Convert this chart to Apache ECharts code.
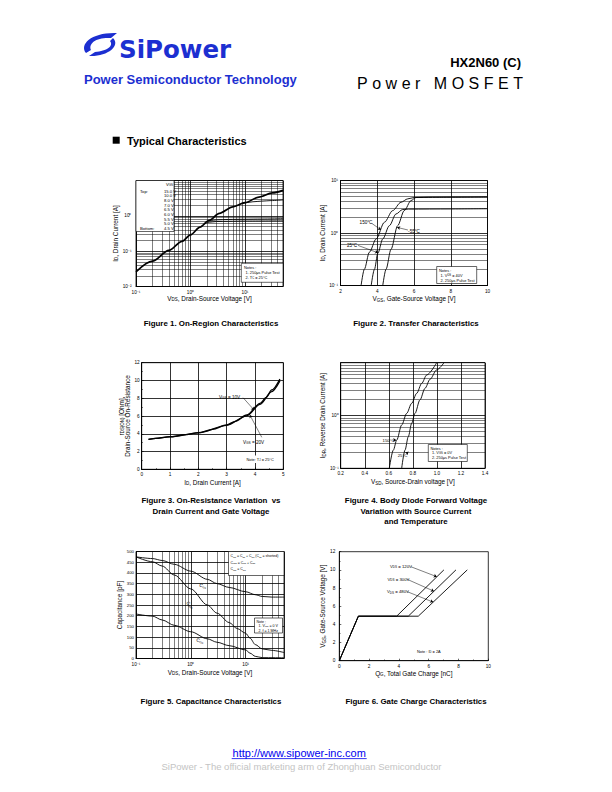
<!DOCTYPE html>
<html><head><meta charset="utf-8">
<script src="https://cdn.jsdelivr.net/npm/echarts@6.0.0/dist/echarts.min.js"></script>
<style>
html,body{margin:0;padding:0;background:#fff;}
#wrap{position:relative;width:612px;height:792px;overflow:hidden;}
#c{position:absolute;left:0;top:0;width:612px;height:792px;}
#hdr{position:absolute;left:0;top:0;pointer-events:none;}
</style>
</head><body>
<div id="wrap">
<div id="c"></div>
<svg id="hdr" width="612" height="792" viewBox="0 0 612 792" xmlns="http://www.w3.org/2000/svg">
  <g fill="#1c2fd1">
    <path d="M86 53 C79 44 92 32 117 33 L111 38 C97 37 88 43 91 50 Z"/>
    <path d="M113 38 C121 46 107 57 89 56 L95 52 C107 51 114 46 110 41 Z"/>
  </g>
  <text x="119" y="58" font-family="DejaVu Sans" font-weight="bold" font-size="24.5" fill="#1c2fd1">SiPower</text>
  <text x="84" y="83.5" font-family="Liberation Sans, Arial" font-weight="bold" font-size="13" fill="#1c2fd1">Power Semiconductor Technology</text>
  <text x="521" y="66.5" text-anchor="end" font-family="Liberation Sans, Arial" font-weight="bold" font-size="13" fill="#000">HX2N60 (C)</text>
  <text x="357" y="89" font-family="Liberation Sans, Arial" font-size="16" letter-spacing="4.5" fill="#000">Power MOSFET</text>
  <rect x="112.7" y="136.7" width="7" height="7" fill="#000"/>
  <text x="127" y="144.7" font-family="Liberation Sans, Arial" font-weight="bold" font-size="11" fill="#000">Typical Characteristics</text>
  <text x="299.2" y="757" text-anchor="middle" font-family="Liberation Sans, Arial" font-size="11" fill="#0000ee">http://www.sipower-inc.com</text>
  <line x1="231.7" y1="758.6" x2="366.7" y2="758.6" stroke="#0000ee" stroke-width="0.8"/>
  <text x="301.5" y="770" text-anchor="middle" font-family="Liberation Sans, Arial" font-size="9.5" fill="#c4c4c4">SiPower - The official marketing arm of Zhonghuan Semiconductor</text>
</svg>
</div>
<script>
// ================= DATA =================
// Figure 1: On-region, [V_DS (V), I_D (A)]
const f1Main = [[0.1,0.026],[0.2,0.052],[0.4,0.105],[0.7,0.19],[1,0.29],[1.5,0.48],[2.2,0.75],[3.4,1.18],[6,1.8],[10,2.35],[18,3.4],[32,4.45],[50,5.25]];
const f1B1 = [[9,2.2],[11,2.38],[14,2.5],[20,2.6],[30,2.7],[50,2.82]];
const f1B2 = [[2.0,0.67],[2.4,0.74],[3,0.77],[5,0.79],[10,0.8],[20,0.81],[50,0.83]];
const f1B3 = [[1.8,0.59],[2.2,0.66],[3,0.69],[5,0.7],[10,0.71],[50,0.72]];
const f1VgsLegend = ['15.0 V','10.0 V','8.0 V','7.0 V','6.5 V','6.0 V','5.5 V','5.0 V','4.5 V'];
const f1XLabels = [0.1, 1, 10];
const f1YLabels = [0.01, 0.1, 1];

// Figure 2: Transfer, [V_GS (V), I_D (A)]
const f2T150 = [[3.12,0.1],[3.3,0.205],[3.57,0.43],[3.94,0.77],[4.39,1.6],[4.84,2.67],[5.29,3.85],[5.66,4.47],[6.02,4.75],[7,4.8],[8,4.82],[10,4.85]];
const f2T25  = [[3.67,0.1],[3.85,0.205],[4.03,0.41],[4.3,0.77],[4.66,1.38],[5.02,2.3],[5.38,2.8],[5.7,2.85],[8,2.87],[10,2.9]];
const f2Tm55 = [[4.3,0.1],[4.48,0.205],[4.75,0.49],[5.11,1.38],[5.47,2.67],[5.84,4.15],[6.11,4.75],[7,4.8],[10,4.85]];
const f2YLabels = [0.1, 1, 10];

// Figure 3: On-resistance, [I_D (A), R (Ohm)]
const f3R10 = [[0.24,3.38],[0.5,3.48],[1,3.67],[1.5,3.88],[2,4.12],[2.5,4.5],[3,4.99],[3.3,5.4],[3.71,6.11],[4.18,7.43],[4.4,8.1],[4.59,8.93],[4.88,10.17]];
const f3R20 = [[0.24,3.36],[1,3.65],[2,4.1],[3,4.95],[3.71,6.02],[4.18,7.3],[4.59,8.75],[4.88,9.95]];

// Figure 4: Body diode, [V_SD (V), I_DR (A)]
const f4D150 = [[0.604,0.1],[0.638,0.222],[0.666,0.343],[0.707,0.66],[0.749,1.1],[0.79,1.7],[0.832,2.63],[0.874,4.07],[0.915,5.85],[0.998,10]];
const f4D25  = [[0.707,0.1],[0.735,0.222],[0.762,0.396],[0.79,0.71],[0.818,1.1],[0.859,1.97],[0.901,3.27],[0.943,4.85],[0.998,7.3],[1.059,10]];
const f4YLabels = [0.1, 1];

// Figure 5: Capacitance, [V_DS (V), C (pF)]
const f5Ciss = [[0.1,475],[0.2,467],[0.3,458],[0.5,440],[1,408],[2,370],[3,350],[5,332],[10,312],[15,298],[20,290],[30,287],[50,287]];
const f5Coss = [[0.1,475],[0.2,452],[0.3,432],[0.5,390],[1,325],[2,250],[3,212],[5,168],[7,140],[10,118],[12,95],[15,65],[20,45],[30,38],[50,28]];
const f5Crss = [[0.1,208],[0.2,198],[0.3,180],[0.5,155],[1,125],[2,92],[3,76],[5,60],[10,40],[12,25],[15,10],[20,4],[50,3]];
const f5XLabels = [0.1, 1, 10];

// Figure 6: Gate charge, [Q_G (nC), V_GS (V)]
const f6G120 = [[0,0],[1.28,4.9],[3.85,4.9],[7.02,10]];
const f6G300 = [[0,0],[1.28,4.9],[4.63,4.9],[7.83,10]];
const f6G480 = [[0,0],[1.28,4.9],[5.3,4.9],[8.59,10]];

// Annotation arrows (data coordinates)
const f2Arrows = [[[3.71,1.52],[4.2,1.15]],[[5.67,1.14],[5.08,1.28]],[[2.95,0.58],[4.04,0.42]]];
const f3Arrows = [[[3.58,8.06],[3.97,6.67]],[[4.24,3.6],[3.82,6.11]]];
const f4Arrows = [[[0.635,0.343],[0.662,0.343]],[[0.743,0.187],[0.763,0.205]]];
const f6Arrows = [[[4.8,10.35],[6.54,9.25]],[[4.56,8.96],[6.35,7.65]],[[4.56,7.6],[6.3,6.45]]];

// ================= CHART =================
const F = 'Liberation Sans, Arial, Helvetica, sans-serif';
const SUP = {'-':'\u207B','0':'\u2070','1':'\u00B9','2':'\u00B2','3':'\u00B3'};
const NAME = 6.4, TICK = 4.7;
function pow10Label(allowed){
  return function(v){
    for (const a of allowed){ if (Math.abs(v-a) < a*1e-6) { const e = Math.round(Math.log10(a)); return '10' + String(e).split('').map(c=>SUP[c]).join(''); } }
    return '';
  };
}
function richSub(size){
  return { s: { fontSize: size*0.7, padding:[size*0.4,0,0,0], color:'#000', fill:'#000', fontFamily:F } };
}
function lbl(margin, fmt, size){
  const o = {color:'#000', fontSize:size||TICK, fontFamily:F, margin:margin};
  if (fmt) o.formatter = fmt;
  return o;
}
function ax(gi, type, o){
  return Object.assign({
    gridIndex: gi, type: type,
    axisLine: {show:true, onZero:false, lineStyle:{color:'#000', width:0.8}},
    axisTick: {show:false},
    axisLabel: lbl(3),
    splitLine: {show:true, lineStyle:{color:'#000', width:0.8}},
    nameLocation:'middle',
    nameTextStyle: {color:'#000', fontSize:NAME, fontFamily:F, rich: richSub(NAME)}
  }, o);
}
function logMinor(min, max){
  const out = [];
  for (let e = -3; e <= 3; e++) for (let k = 2; k <= 9; k++) { const v = k*Math.pow(10,e); if (v > min*1.0001 && v < max*0.9999) out.push(v); }
  return out;
}
function gridLines(gi, axis, values, width){
  return {type:'line', xAxisIndex:gi, yAxisIndex:gi, data:[], silent:true, z:1, animation:false,
    markLine:{silent:true, symbol:['none','none'], label:{show:false}, animation:false, precision:6,
      lineStyle:{color:'#000', width:width, type:'solid'},
      emphasis:{disabled:true},
      data: values.map(v => axis === 'x' ? {xAxis:v} : {yAxis:v})}};
}
function arrows(gi, list){
  return {type:'line', xAxisIndex:gi, yAxisIndex:gi, data:[], silent:true, z:6, animation:false,
    markLine:{silent:true, symbol:['none','arrow'], symbolSize:3, label:{show:false}, animation:false,
      lineStyle:{color:'#000', width:0.5, type:'solid'}, emphasis:{disabled:true},
      data: list.map(p => [{coord:p[0]},{coord:p[1]}])}};
}
function ln(gi, data, w, smooth){
  return {type:'line', xAxisIndex:gi, yAxisIndex:gi, data:data, showSymbol:false, symbol:'none',
    smooth: smooth === undefined ? 0.3 : smooth, smoothMonotone:'x', silent:true, z:5, animation:false,
    lineStyle:{color:'#000', width:w}};
}
function T(x, y, text, size, o){
  o = o || {};
  return {type:'text', x:x, y:y, z:100, silent:true, rotation:o.rot||0,
    style:{text:text, fill:'#000', fontSize:size, fontFamily:F, fontWeight:o.bold?'bold':'normal',
      align:o.align||'left', textAlign:o.align||'left', verticalAlign:'middle', textVerticalAlign:'middle',
      rich: richSub(size)}};
}
function R(x, y, w, h, border){
  return {type:'rect', z:90, silent:true, shape:{x:x, y:y, width:w, height:h},
    style:{fill:'#fff', stroke: border===false ? null : '#000', lineWidth:0.6}};
}

const gridBase = {show:true, borderColor:'#000', borderWidth:0.8, backgroundColor:'transparent', containLabel:false, outerBoundsMode:'none'};
const grids = [
  Object.assign({left:136, top:180.5, width:147, height:106}, gridBase),
  Object.assign({left:340.5, top:180.5, width:147, height:105}, gridBase),
  Object.assign({left:141.7, top:362.7, width:141.6, height:106.6}, gridBase),
  Object.assign({left:340.7, top:362.7, width:144.3, height:105.6}, gridBase),
  Object.assign({left:136, top:551.5, width:148, height:107}, gridBase),
  Object.assign({left:339.3, top:551.7, width:149, height:109}, gridBase)
];

const inTick = {show:true, inside:true, length:2, lineStyle:{color:'#000', width:0.6}};
const inMinor = {show:true, splitNumber:2, length:1.3, lineStyle:{color:'#000', width:0.5}};

const xAxes = [
  ax(0,'log',{min:0.1, max:50, logBase:10, name:'V{s|DS}, Drain-Source Voltage [V]', nameGap:8.5,
     axisLabel:lbl(3.2, pow10Label(f1XLabels))}),
  ax(1,'value',{min:2, max:10, interval:2, name:'V{s|GS}, Gate-Source Voltage [V]', nameGap:10,
     axisLabel:lbl(3.8)}),
  ax(2,'value',{min:0, max:5, interval:1, name:'I{s|D}, Drain Current [A]', nameGap:9.5, axisTick:inTick, minorTick:inMinor,
     axisLabel:lbl(2.7)}),
  ax(3,'value',{min:0.2, max:1.4, interval:0.2, name:'V{s|SD}, Source-Drain voltage [V]', nameGap:10.3,
     axisLabel:lbl(2.5, v=>v.toFixed(1))}),
  ax(4,'log',{min:0.1, max:50, logBase:10, name:'V{s|DS}, Drain-Source Voltage [V]', nameGap:10.8,
     axisLabel:lbl(3.3, pow10Label(f5XLabels))}),
  ax(5,'value',{min:0, max:10, interval:2, name:'Q{s|G}, Total Gate Charge [nC]', nameGap:9.6, axisTick:inTick, minorTick:inMinor,
     splitLine:{show:false}, axisLabel:lbl(3.3)})
];
const yAxes = [
  ax(0,'log',{min:0.01, max:10, logBase:10, name:'I{s|D}, Drain Current [A]', nameGap:14.5,
     axisLabel:lbl(4.5, pow10Label(f1YLabels))}),
  ax(1,'log',{min:0.1, max:10, logBase:10, name:'I{s|D}, Drain Current [A]', nameGap:12.5,
     axisLabel:lbl(2.5, pow10Label(f2YLabels))}),
  ax(2,'value',{min:0, max:12, interval:2, name:'r{s|DS(ON)} [Ohm],\nDrain-Source On-Resistance', nameGap:8.5, axisTick:inTick, minorTick:inMinor,
     axisLabel:lbl(2)}),
  ax(3,'log',{min:0.1, max:10, logBase:10, name:'I{s|DR}, Reverse Drain Current [A]', nameGap:9.2,
     axisLabel:lbl(2, pow10Label(f4YLabels))}),
  ax(4,'value',{min:0, max:500, interval:50, name:'Capacitance [pF]', nameGap:9.5,
     axisLabel:lbl(2, null, 4.3)}),
  ax(5,'value',{min:0, max:12, interval:2, name:'V{s|GS}, Gate-Source Voltage [V]', nameGap:11,
     splitLine:{show:false}, axisTick:inTick, minorTick:inMinor, axisLabel:lbl(4)})
];

const series = [
  // fig 1
  gridLines(0,'x',logMinor(0.1,50),0.5), gridLines(0,'y',logMinor(0.01,10),0.5),
  ln(0,f1B3,0.9), ln(0,f1B2,0.9), ln(0,f1B1,0.9), ln(0,f1Main,1.7),
  // fig 2
  gridLines(1,'y',logMinor(0.1,10),0.5),
  ln(1,f2T150,0.9), ln(1,f2T25,0.9), ln(1,f2Tm55,0.9), arrows(1,f2Arrows),
  // fig 3
  ln(2,f3R20,1.3), ln(2,f3R10,1.3), arrows(2,f3Arrows),
  // fig 4
  gridLines(3,'y',logMinor(0.1,10),0.5),
  ln(3,f4D150,0.9), ln(3,f4D25,0.9), arrows(3,f4Arrows),
  // fig 5
  gridLines(4,'x',logMinor(0.1,50),0.5),
  ln(4,f5Ciss,0.9), ln(4,f5Coss,0.9), ln(4,f5Crss,0.9),
  // fig 6
  ln(5,f6G120,0.9,false), ln(5,f6G300,0.9,false), ln(5,f6G480,0.9,false), arrows(5,f6Arrows)
];

const g = [];
// Figure 1 legend box
g.push(R(136,180.5,38,51));
g.push(T(166,184,'V{s|GS}',4.2));
g.push(T(140,191,'Top:',4.2));
f1VgsLegend.forEach((s,i)=>g.push(T(164,191+i*4.7,s,4.2)));
g.push(T(140,191+8*4.7,'Bottom:',4.2));
// Figure 1 notes
g.push(R(241.3,263.3,41.7,19));
g.push(T(244,267.3,'Notes :',3.9));
g.push(T(245.5,272.3,'1. 250\u03BCs Pulse Test',3.9));
g.push(T(245.5,277.3,'2. T{s|C} = 25\u00B0C',3.9));
// Figure 2 notes & labels
g.push(R(436.7,266.5,40,17));
g.push(T(439,270,'Notes :',3.9));
g.push(T(440.5,275,'1. V{s|DS} = 40V',3.9));
g.push(T(440.5,280,'2. 250\u03BCs Pulse Test',3.9));
g.push(T(366,222,'150\u00B0C',4.6,{align:'center'}));
g.push(T(414,231,'-55\u00B0C',4.6,{align:'center'}));
g.push(T(352,245,'25\u00B0C',4.6,{align:'center'}));
// Figure 3
g.push(T(219,397,'V{s|GS} = 10V',4.6));
g.push(T(243,442,'V{s|GS} = 20V',4.6));
g.push(R(245,455.5,29,7.5,false));
g.push(T(246.5,459.3,'Note: T{s|J} = 25\u00B0C',3.9));
// Figure 4
g.push(T(388.5,440,'150\u00B0C',4.3,{align:'center'}));
g.push(T(402.5,455.3,'25\u00B0C',4.3,{align:'center'}));
g.push(R(428.3,444.5,39,17));
g.push(T(430.5,448,'Notes :',3.9));
g.push(T(432,452.5,'1. V{s|GS} = 0V',3.9));
g.push(T(432,457,'2. 250\u03BCs Pulse Test',3.9));
// Figure 5
g.push(R(228.5,551.5,55.5,24));
g.push(T(230.5,556.3,'C{s|iss} = C{s|gs} + C{s|gd} (C{s|ds} = shorted)',3.5));
g.push(T(230.5,562.8,'C{s|oss} = C{s|ds} + C{s|gd}',3.5));
g.push(T(230.5,569.3,'C{s|rss} = C{s|gd}',3.5));
g.push(R(254.5,618,28,15));
g.push(T(256.5,621.5,'Note ;',3.6));
g.push(T(258.5,626,'1. V{s|GS} = 0 V',3.6));
g.push(T(258.5,630.5,'2. f = 1 MHz',3.6));
g.push(T(203,586,'C{s|iss}',4.6,{align:'center', rot:-0.35}));
g.push(T(190,605,'C{s|oss}',4.6,{align:'center', rot:-0.75}));
g.push(T(200,641,'C{s|rss}',4.6,{align:'center', rot:-0.35}));
// Figure 6
g.push(T(390,566.3,'V{s|DS} = 120V',4.3));
g.push(T(387.5,579.3,'V{s|DS} = 300V',4.3));
g.push(T(387,591.7,'V{s|DS} = 480V',4.3));
g.push(T(417,651.7,'Note : I{s|D} = 2A',3.9));
// Captions
const CAP = 7.9;
g.push(T(211,323.5,'Figure 1. On-Region Characteristics',CAP,{bold:true,align:'center'}));
g.push(T(416,323.5,'Figure 2. Transfer Characteristics',CAP,{bold:true,align:'center'}));
g.push(T(211,500,'Figure 3. On-Resistance Variation  vs',CAP,{bold:true,align:'center'}));
g.push(T(211,511,'Drain Current and Gate Voltage',CAP,{bold:true,align:'center'}));
g.push(T(416,500.5,'Figure 4. Body Diode Forward Voltage',CAP,{bold:true,align:'center'}));
g.push(T(416,511,'Variation with Source Current',CAP,{bold:true,align:'center'}));
g.push(T(416,521.5,'and Temperature',CAP,{bold:true,align:'center'}));
g.push(T(211,701.7,'Figure 5. Capacitance Characteristics',CAP,{bold:true,align:'center'}));
g.push(T(416,701.7,'Figure 6. Gate Charge Characteristics',CAP,{bold:true,align:'center'}));

const chart = echarts.init(document.getElementById('c'), null, {renderer:'svg', width:612, height:792});
chart.setOption({
  animation:false,
  backgroundColor:'#fff',
  grid: grids,
  xAxis: xAxes,
  yAxis: yAxes,
  series: series,
  graphic: {elements: g}
});
</script>
</body></html>
